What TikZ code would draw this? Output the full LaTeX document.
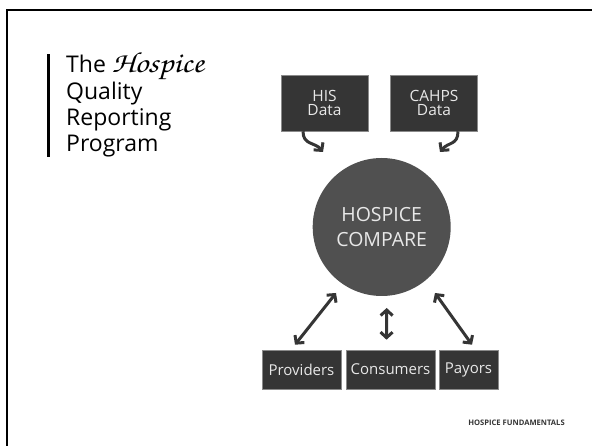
\documentclass[tikz,border=0pt]{standalone}
\usepackage{fontspec}
\setmainfont{Open Sans}
\usetikzlibrary{arrows.meta}
\definecolor{boxgray}{HTML}{353535}
\definecolor{discgray}{HTML}{505050}
\definecolor{inktext}{HTML}{E8E8E8}
\definecolor{edgegray}{HTML}{8A8A8A}
\newcommand{\scriptword}[1]{\scalebox{1.15}[1]{\fontencoding{OT1}\fontfamily{pzc}\fontseries{mb}\fontshape{it}\fontsize{29}{29}\selectfont #1}}
\tikzset{
  databox/.style={draw=edgegray, line width=0.6pt, fill=boxgray, text=inktext,
    minimum width=87pt, minimum height=56pt, inner sep=0pt, align=center,
    font=\fontsize{15.5}{14.5}\selectfont},
  groupbox/.style={draw=edgegray, line width=0.6pt, fill=boxgray, text=inktext,
    minimum height=39pt, inner sep=0pt, align=center,
    font=\fontsize{15}{16}\selectfont},
  hub/.style={circle, fill=discgray, text=inktext, minimum size=138pt, inner sep=0pt,
    align=center, font=\fontsize{19.5}{25}\selectfont},
  barb/.tip={Straight Barb[length=5.5pt,width=12pt]},
  feed/.style={draw=boxgray, line width=3pt, -barb},
  link/.style={draw=boxgray, line width=3pt, barb-barb}
}
\begin{document}
\begin{tikzpicture}[x=1pt, y=-1pt]
  \useasboundingbox (0,0) rectangle (592,446);
  \fill[white] (0,0) rectangle (592,446);

  % slide frame (top and left edges)
  \draw[black, line width=2.2pt] (7,460) -- (7,10) -- (600,10);

  % title block
  \fill[black] (47,54) rectangle (50,157);
  \node[anchor=base west, inner sep=0pt, align=left, text=black,
        font=\fontsize{23}{26.3}\selectfont] (title) at (66,152)
    {The \scriptword{Hospice}\\Quality\\Reporting\\Program};

  % data sources
  \node[databox] (his)   at (324.5,103) {HIS\\Data};
  \node[databox] (cahps) at (434,103)   {CAHPS\\Data};

  % central hub
  \node[hub] (hub) at (381.7,227) {HOSPICE\\COMPARE};

  % audiences
  \node[groupbox, minimum width=79pt] (prov) at (301.5,369.5) {Providers};
  \node[groupbox, minimum width=89pt] (cons) at (390.5,369.5) {Consumers};
  \node[groupbox, minimum width=59pt] (pay)  at (468.5,369.5) {Payors};

  % feeds into the hub
  \draw[feed] ([shift={(-21.5,0)}]his.south) .. controls +(0,14) and +(-8,-10) ..
              ([shift={(-58.7,-75)}]hub.center);
  \draw[feed] ([shift={(24,0)}]cahps.south) .. controls +(0,14) and +(8,-10) ..
              ([shift={(58.3,-75)}]hub.center);

  % two-way links to the audiences
  \draw[link] ([shift={(-6.5,-5)}]prov.north) -- ([shift={(-45.7,66)}]hub.center);
  \draw[link] ([shift={(-4,-10)}]cons.north)  -- ([shift={(5,81)}]hub.center);
  \draw[link] ([shift={(3.5,-5)}]pay.north)   -- ([shift={(53.3,66)}]hub.center);

  % footer
  \node[text=boxgray, inner sep=0pt, font=\bfseries\fontsize{7.6}{8}\selectfont]
        (foot) at (516.5,423) {HOSPICE FUNDAMENTALS};
\end{tikzpicture}
\end{document}
